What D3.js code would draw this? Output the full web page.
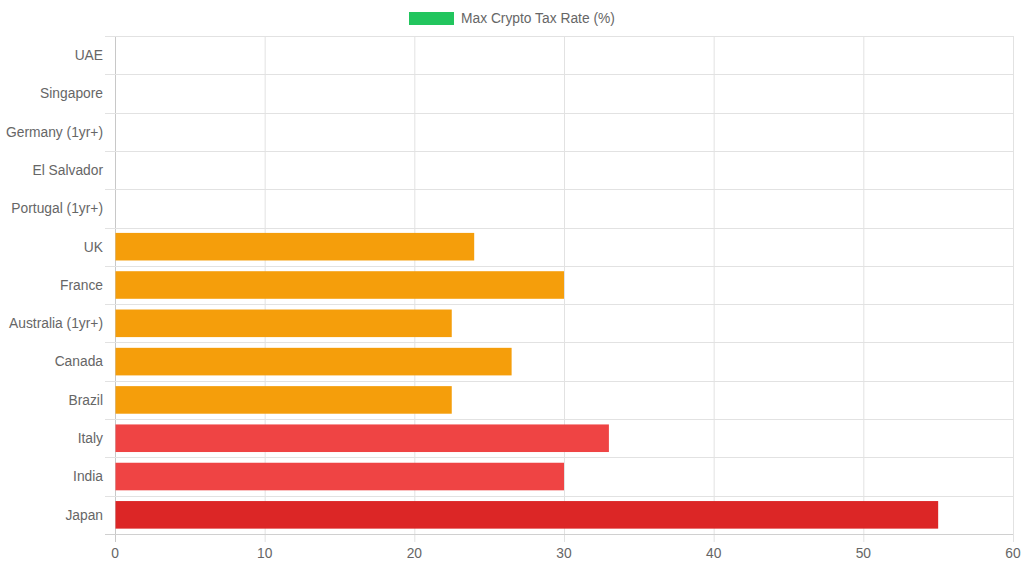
<!DOCTYPE html>
<html>
<head>
<meta charset="utf-8">
<script src="https://cdn.jsdelivr.net/npm/d3@7"></script>
<style>
  body { margin: 0; background: #fff; }
  text { font-family: "Liberation Sans", Arial, sans-serif; }
</style>
</head>
<body>
<svg id="chart" width="1024" height="569"></svg>
<script>
// Datos del gráfico
const countries = ["UAE", "Singapore", "Germany (1yr+)", "El Salvador", "Portugal (1yr+)",
  "UK", "France", "Australia (1yr+)", "Canada", "Brazil", "Italy", "India", "Japan"];
const taxRates = [0, 0, 0, 0, 0, 24, 30, 22.5, 26.5, 22.5, 33, 30, 55];
const barColors = ["#22c55e", "#22c55e", "#22c55e", "#22c55e", "#22c55e",
  "#f59e0b", "#f59e0b", "#f59e0b", "#f59e0b", "#f59e0b", "#ef4444", "#ef4444", "#dc2626"];
const xTicks = [0, 10, 20, 30, 40, 50, 60];
const seriesLabel = "Max Crypto Tax Rate (%)";
const legendColor = "#22c55e";

// Área del gráfico
const margin = { top: 36, right: 11, bottom: 35, left: 115 };
const width = 1024, height = 569;
const fontSize = 13.8;
const svg = d3.select("#chart");

const x = d3.scaleLinear()
  .domain([0, 60])
  .range([margin.left, width - margin.right]);

const y = d3.scaleBand()
  .domain(countries)
  .range([margin.top, height - margin.bottom]);

const barH = y.bandwidth() * 0.8 * 0.9;

// Rejilla vertical
svg.append("g")
  .selectAll("line")
  .data(xTicks)
  .enter()
  .append("line")
  .attr("x1", d => x(d) + 0.5)
  .attr("x2", d => x(d) + 0.5)
  .attr("y1", margin.top)
  .attr("y2", height - margin.bottom + 8)
  .attr("stroke", d => d === 0 ? "#c8c8c8" : "#e2e2e2")
  .attr("stroke-width", 1);

// Rejilla horizontal (entre categorías)
const bounds = countries.map(c => y(c)).concat([y.range()[1]]);
svg.append("g")
  .selectAll("line")
  .data(bounds)
  .enter()
  .append("line")
  .attr("x1", margin.left - 10)
  .attr("x2", width - margin.right)
  .attr("y1", d => Math.round(d) + 0.5)
  .attr("y2", d => Math.round(d) + 0.5)
  .attr("stroke", (d, i) => i === bounds.length - 1 ? "#d0d0d0" : "#e2e2e2")
  .attr("stroke-width", 1);

// Barras
svg.append("g")
  .selectAll("rect")
  .data(countries)
  .enter()
  .append("rect")
  .attr("x", x(0) + 0.5)
  .attr("y", d => y(d) + (y.bandwidth() - barH) / 2)
  .attr("width", (d, i) => Math.max(0, x(taxRates[i]) - x(0) - 0.5))
  .attr("height", barH)
  .attr("fill", (d, i) => barColors[i]);

// Etiquetas del eje Y
svg.append("g")
  .selectAll("text")
  .data(countries)
  .enter()
  .append("text")
  .attr("x", margin.left - 12)
  .attr("y", d => y(d) + y.bandwidth() / 2)
  .attr("dy", "0.35em")
  .attr("text-anchor", "end")
  .attr("font-size", fontSize)
  .attr("fill", "#666")
  .text(d => d);

// Etiquetas del eje X
svg.append("g")
  .selectAll("text")
  .data(xTicks)
  .enter()
  .append("text")
  .attr("x", d => x(d))
  .attr("y", height - margin.bottom + 19)
  .attr("dy", "0.35em")
  .attr("text-anchor", "middle")
  .attr("font-size", fontSize)
  .attr("fill", "#666")
  .text(d => d);

// Leyenda
const legend = svg.append("g");
legend.append("rect")
  .attr("x", 409)
  .attr("y", 12)
  .attr("width", 45)
  .attr("height", 13)
  .attr("fill", legendColor);
legend.append("text")
  .attr("x", 461)
  .attr("y", 18.5)
  .attr("dy", "0.35em")
  .attr("font-size", fontSize)
  .attr("fill", "#666")
  .text(seriesLabel);
</script>
</body>
</html>
